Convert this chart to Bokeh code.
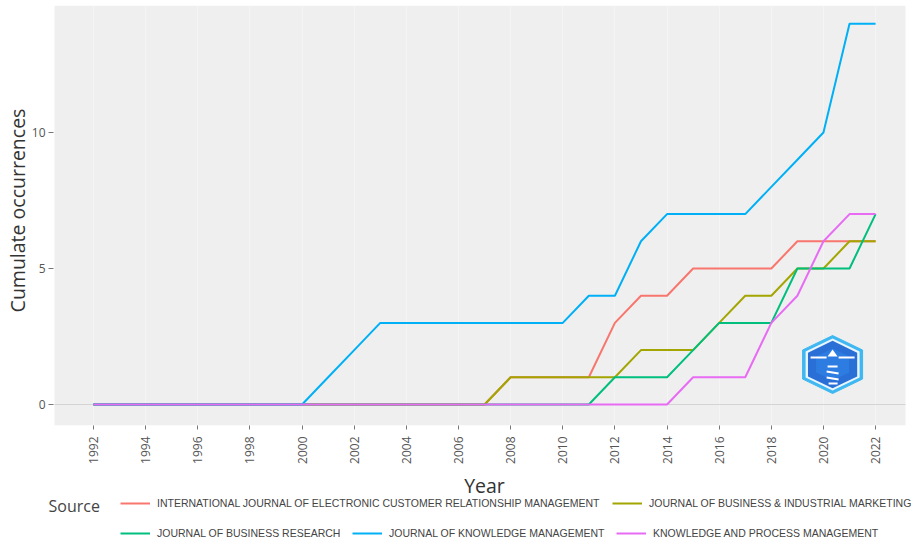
import math
import numpy as np
from bokeh.plotting import figure
from bokeh.layouts import column
from bokeh.models import FixedTicker, Legend, LegendItem, Label, Range1d
from bokeh.embed import file_html
from bokeh.resources import INLINE

# ---------------- data ----------------
years = [1992, 1993, 1994, 1995, 1996, 1997, 1998, 1999, 2000, 2001, 2002,
         2003, 2004, 2005, 2006, 2007, 2008, 2009, 2010, 2011, 2012, 2013,
         2014, 2015, 2016, 2017, 2018, 2019, 2020, 2021, 2022]

sources = [
    "INTERNATIONAL JOURNAL OF ELECTRONIC CUSTOMER RELATIONSHIP MANAGEMENT",
    "JOURNAL OF BUSINESS & INDUSTRIAL MARKETING",
    "JOURNAL OF BUSINESS RESEARCH",
    "JOURNAL OF KNOWLEDGE MANAGEMENT",
    "KNOWLEDGE AND PROCESS MANAGEMENT",
]

ijecrm = [0, 0, 0, 0, 0, 0, 0, 0, 0, 0, 0, 0, 0, 0, 0, 0,
          1, 1, 1, 1, 3, 4, 4, 5, 5, 5, 5, 6, 6, 6, 6]
jbim = [0, 0, 0, 0, 0, 0, 0, 0, 0, 0, 0, 0, 0, 0, 0, 0,
        1, 1, 1, 1, 1, 2, 2, 2, 3, 4, 4, 5, 5, 6, 6]
jbr = [0, 0, 0, 0, 0, 0, 0, 0, 0, 0, 0, 0, 0, 0, 0, 0,
       0, 0, 0, 0, 1, 1, 1, 2, 3, 3, 3, 5, 5, 5, 7]
jkm = [0, 0, 0, 0, 0, 0, 0, 0, 0, 1, 2, 3, 3, 3, 3, 3,
       3, 3, 3, 4, 4, 6, 7, 7, 7, 7, 8, 9, 10, 14, 14]
kpm = [0, 0, 0, 0, 0, 0, 0, 0, 0, 0, 0, 0, 0, 0, 0, 0,
       0, 0, 0, 0, 0, 0, 0, 1, 1, 1, 3, 4, 6, 7, 7]

series = [ijecrm, jbim, jbr, jkm, kpm]
colors = ["#F8766D", "#A3A500", "#00BF7D", "#00B0F6", "#E76BF3"]

x_ticks = [1992, 1994, 1996, 1998, 2000, 2002, 2004, 2006, 2008, 2010,
           2012, 2014, 2016, 2018, 2020, 2022]
y_ticks = [0, 5, 10]
y_tick_labels = ["0", "5", "10"]

# ---------------- geometry (layout only) ----------------
PPX, PPY = 26.07, 27.2                 # pixels per year / per count
X0 = 1992 - 93 / PPX                   # data x at the left edge of the canvas
X1 = X0 + 919 / PPX
PANEL_L, PANEL_R = X0 + 54 / PPX, X0 + 905 / PPX
Y_BOT, Y_TOP = -(425 - 404) / PPY, (404 - 5) / PPY

# ---------------- main figure ----------------
p = figure(width=919, height=471, output_backend="svg", toolbar_location=None,
           x_range=Range1d(X0, X1), y_range=Range1d(Y_BOT, Y_TOP),
           y_axis_type=None,
           min_border_left=0, min_border_right=0, min_border_top=5,
           min_border_bottom=46)
p.background_fill_color = "white"
p.border_fill_color = "white"
p.outline_line_color = None

# grey panel
p.quad(left=[PANEL_L], right=[PANEL_R], bottom=[Y_BOT], top=[Y_TOP],
       fill_color="#EFEFEF", line_color=None, level="image")

p.xgrid.grid_line_color = "white"
p.xgrid.grid_line_alpha = 0.3

ax = p.xaxis[0]
ax.ticker = FixedTicker(ticks=x_ticks)
ax.axis_line_color = None
ax.major_tick_in = 0
ax.major_tick_out = 4
ax.major_tick_line_color = "#777777"
ax.minor_tick_line_color = None
ax.major_label_text_font = "Open Sans"
ax.major_label_text_font_size = "12px"
ax.major_label_text_color = "#555555"
ax.major_label_orientation = math.pi / 2
ax.major_label_standoff = 7

# y axis drawn by hand (ticks, labels, title) so the canvas can stay full width
p.segment(x0=[X0 + 48 / PPX] * len(y_ticks), y0=y_ticks,
          x1=[X0 + 53 / PPX] * len(y_ticks), y1=y_ticks,
          line_color="#777777", line_width=1)
p.text(x=[X0 + 45 / PPX] * len(y_ticks), y=y_ticks, text=y_tick_labels,
       text_align="right", text_baseline="middle", text_font_size="12px",
       text_color="#555555", text_font={"value": "Open Sans"})
p.text(x=[X0 + 17 / PPX], y=[(404 - 210) / PPY], text=["Cumulate occurrences"],
       angle=math.pi / 2, text_align="center", text_baseline="middle",
       text_font_size="19.5px", text_color="#333333", text_font={"value": "Open Sans"})

# zero line inside the panel
p.segment(x0=[PANEL_L], y0=[0], x1=[PANEL_R], y1=[0], line_color="#D4D4D4", line_width=1)

# ---------------- lines ----------------
for vals, col in zip(series, colors):
    p.line(years, vals, line_color=col, line_width=2)

# ---------------- logo (decoration) ----------------
LOGO_X, LOGO_Y = 2020.35, 1.47


def hexagon(scale):
    ang = np.deg2rad([90, 30, -30, -90, -150, 150])
    rx = 30 / PPX / np.cos(np.deg2rad(30)) * scale
    ry = 29 / PPY * scale
    return list(LOGO_X + rx * np.cos(ang)), list(LOGO_Y + ry * np.sin(ang))


hx, hy = hexagon(1.0)
p.patch(hx, hy, fill_color="#3FB8F2", line_color="#3FB8F2", line_width=1)
hx, hy = hexagon(0.9)
p.patch(hx, hy, fill_color="#EAF6FD", line_color=None)
hx, hy = hexagon(0.82)
p.patch(hx, hy, fill_color="#2A6FD6", line_color=None)
hx, hy = hexagon(0.55)
p.patch(hx, hy, fill_color="#2F86E8", line_color=None, fill_alpha=0.6)


def px(dx, dy):
    return LOGO_X + dx / PPX, LOGO_Y - dy / PPY


segs = [((-22, -7), (-6, -7)), ((6, -7), (22, -7)),
        ((-5, 2), (5, 2)), ((-6, 7), (6, 9)), ((-6, 13), (6, 15)), ((-4, 19), (5, 19))]
xs, ys = [], []
for a, b in segs:
    (xa, ya), (xb, yb) = px(*a), px(*b)
    xs.append([xa, xb])
    ys.append([ya, yb])
p.multi_line(xs, ys, line_color="white", line_width=2)
tx, ty = zip(px(-5, -8), px(0, -15), px(5, -8))
p.patch(list(tx), list(ty), fill_color="white", line_color=None)

# ---------------- strip with x title and legend ----------------
lg = figure(width=919, height=70, output_backend="svg", toolbar_location=None,
            x_range=Range1d(0, 919), y_range=Range1d(0, 70),
            x_axis_type=None, y_axis_type=None,
            min_border_left=0, min_border_right=0, min_border_top=0, min_border_bottom=0)
lg.outline_line_color = None
lg.background_fill_color = "white"
lg.border_fill_color = "white"

lg.add_layout(Label(x=484, y=56, x_units="screen", y_units="screen", text="Year",
                    text_font="Open Sans", text_font_size="19.5px", text_color="#333333",
                    text_align="center", text_baseline="middle"))
lg.add_layout(Label(x=48, y=36, x_units="screen", y_units="screen", text="Source",
                    text_font="Open Sans", text_font_size="16px", text_color="#444444",
                    text_baseline="middle"))

leg_pos = [(120, 31), (612, 31), (120, 1), (352, 1), (616, 1)]
for name, col, (lx, ly) in zip(sources, colors, leg_pos):
    r = lg.line(x=np.array([np.nan, np.nan]), y=np.array([np.nan, np.nan]),
                line_color=col, line_width=2)
    leg = Legend(items=[LegendItem(label=name, renderers=[r])], location=(lx, ly),
                 orientation="horizontal", padding=0, margin=0, spacing=0,
                 glyph_width=30, glyph_height=14, label_height=14, label_standoff=7,
                 label_text_font="Liberation Sans", label_text_font_size="10.5px",
                 label_text_color="#444444", border_line_color=None,
                 background_fill_alpha=0)
    lg.add_layout(leg)

layout = column(p, lg, spacing=0)
open("out.html", "w").write(file_html(layout, INLINE))
